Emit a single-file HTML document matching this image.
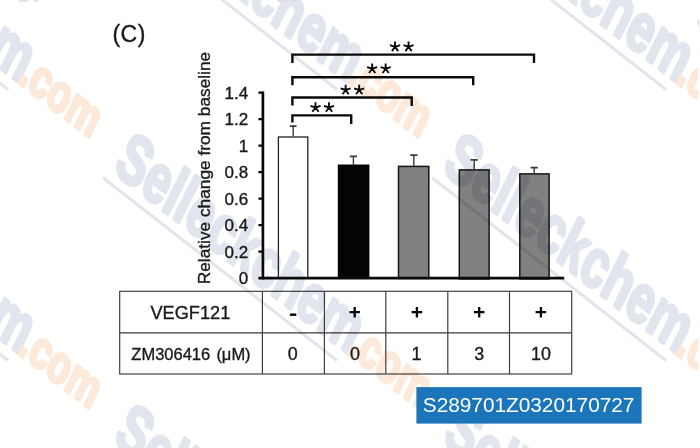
<!DOCTYPE html>
<html>
<head>
<meta charset="utf-8">
<title>Figure C</title>
<style>
html,body{margin:0;padding:0;background:#fff;}
body{width:700px;height:448px;overflow:hidden;position:relative;font-family:"Liberation Sans",sans-serif;}
svg{position:absolute;left:0;top:0;display:block;}
text{font-family:"Liberation Sans",sans-serif;}
svg{will-change:transform;}
text{stroke:#1a1a1a;stroke-width:0.35px;}
text.w{stroke:none;}
text.wm1{font-size:2048px;font-weight:bold;fill:#e1e5ee;stroke:#e1e5ee;stroke-width:106px;stroke-linejoin:round;}
text.wm2{font-size:2048px;font-weight:bold;fill:#fde9da;stroke:#fde9da;stroke-width:136px;stroke-linejoin:round;}
</style>
</head>
<body>
<svg width="700" height="448" viewBox="0 0 700 448">
  <rect width="700" height="448" fill="#fff"/>

  <!-- panel label -->
  <text x="112.4" y="41.9" font-size="23" letter-spacing="0.55" fill="#1a1a1a">(C)</text>

  <!-- y axis label -->
  <text transform="translate(209.5,284.3) rotate(-90)" font-size="17.3" fill="#1a1a1a">Relative change from baseline</text>

  <!-- y tick labels -->
  <g font-size="17" fill="#1a1a1a" text-anchor="end">
    <text x="248.2" y="98.80">1.4</text>
    <text x="248.2" y="125.28">1.2</text>
    <text x="248.2" y="151.76">1</text>
    <text x="248.2" y="178.24">0.8</text>
    <text x="248.2" y="204.72">0.6</text>
    <text x="248.2" y="231.20">0.4</text>
    <text x="248.2" y="257.68">0.2</text>
    <text x="248.2" y="284.16">0</text>
  </g>

  <!-- bars -->
  <rect x="278.4" y="137" width="29.4" height="141" fill="#fff" stroke="#222" stroke-width="1.3"/>
  <rect x="337.8" y="164.5" width="31.6" height="114" fill="#050404"/>
  <rect x="398.5" y="166.4" width="30.3" height="112" fill="#818181" stroke="#151515" stroke-width="1.5"/>
  <rect x="459.3" y="169.9" width="29.8" height="109" fill="#818181" stroke="#151515" stroke-width="1.5"/>
  <rect x="519.8" y="173.9" width="29.3" height="105" fill="#818181" stroke="#151515" stroke-width="1.5"/>

  <!-- error bars -->
  <g stroke="#3a3a3a" fill="none">
    <path d="M293.2 136.5V126M353.4 165V156.3M413.8 166V155M474.2 169V160M534.2 173V167.8" stroke-width="1.4"/>
    <path d="M289.9 126.1H296.5M349.8 156.3H357M410.2 155.1H417.5M470.6 159.9H477.8M530.6 167.7H537.8" stroke-width="1.7"/>
  </g>

  <!-- axes -->
  <g stroke="#0a0a0a" fill="none">
    <path d="M262.9 91.5V279.4" stroke-width="2.7"/>
    <path d="M258.4 278.1H564.2" stroke-width="2.8"/>
    <path d="M258.4 92.70H263M258.4 119.18H263M258.4 145.66H263M258.4 172.14H263M258.4 198.62H263M258.4 225.10H263M258.4 251.58H263" stroke-width="2.3"/>
  </g>

  <!-- significance brackets -->
  <g stroke="#0a0a0a" stroke-width="2.4" fill="none">
    <path d="M292.4 63V54.6H534V63"/>
    <path d="M292.4 85.2V77.2H473.2V85.2"/>
    <path d="M292.4 105.6V97.5H411.7V106"/>
    <path d="M292.4 122.5V115.4H351.2V124"/>
  </g>
  <path d="M395.05 46.80L395.05 41.50M395.05 46.80L400.09 45.16M395.05 46.80L398.17 51.09M395.05 46.80L391.93 51.09M395.05 46.80L390.01 45.16M408.55 46.80L408.55 41.50M408.55 46.80L413.59 45.16M408.55 46.80L411.67 51.09M408.55 46.80L405.43 51.09M408.55 46.80L403.51 45.16M372.15 68.70L372.15 63.40M372.15 68.70L377.19 67.06M372.15 68.70L375.27 72.99M372.15 68.70L369.03 72.99M372.15 68.70L367.11 67.06M385.65 68.70L385.65 63.40M385.65 68.70L390.69 67.06M385.65 68.70L388.77 72.99M385.65 68.70L382.53 72.99M385.65 68.70L380.61 67.06M345.65 90.00L345.65 84.70M345.65 90.00L350.69 88.36M345.65 90.00L348.77 94.29M345.65 90.00L342.53 94.29M345.65 90.00L340.61 88.36M359.15 90.00L359.15 84.70M359.15 90.00L364.19 88.36M359.15 90.00L362.27 94.29M359.15 90.00L356.03 94.29M359.15 90.00L354.11 88.36M315.50 107.50L315.50 102.20M315.50 107.50L320.54 105.86M315.50 107.50L318.62 111.79M315.50 107.50L312.38 111.79M315.50 107.50L310.46 105.86M329.00 107.50L329.00 102.20M329.00 107.50L334.04 105.86M329.00 107.50L332.12 111.79M329.00 107.50L325.88 111.79M329.00 107.50L323.96 105.86" stroke="#0a0a0a" stroke-width="1.9" fill="none" stroke-linecap="butt"/>

  <!-- table -->
  <g stroke="#3a3a3a" stroke-width="1.15" fill="none">
    <rect x="119.7" y="291.3" width="452" height="82.7"/>
    <path d="M119.7 332.9H571.7"/>
    <path d="M262.4 291.3V374M324.4 291.3V374M385.8 291.3V374M447.8 291.3V374M509.5 291.3V374"/>
  </g>
  <g fill="#1a1a1a" text-anchor="middle">
    <text x="190.4" y="318.6" font-size="18.2">VEGF121</text>
    <text x="170.8" y="359.9" font-size="16.5">ZM306416</text>
    <text x="233.5" y="359.9" font-size="16.5">(μM)</text>
    <g font-size="17.9">
      <text x="292.8" y="360">0</text>
      <text x="354.9" y="360">0</text>
      <text x="416.6" y="360">1</text>
      <text x="479.3" y="360">3</text>
      <text x="541" y="360">10</text>
    </g>
  </g>
  <path d="M349.40 312.20H360.00M354.70 306.90V317.50M411.60 312.20H422.20M416.90 306.90V317.50M473.90 312.20H484.50M479.20 306.90V317.50M535.60 312.20H546.20M540.90 306.90V317.50" stroke="#0a0a0a" stroke-width="2.3" fill="none"/>
  <path d="M290 314.7H296.3" stroke="#0a0a0a" stroke-width="2.5" fill="none"/>

<g id="watermarks" style="mix-blend-mode:multiply">
<g transform="matrix(0.01914,0.01484,-0.01466,0.02941,-217.00,-371.00)"><text class="wm1" x="0" y="0">Selleckchem</text></g>
<g transform="matrix(0.01549,0.01201,-0.01119,0.02246,16.85,-189.61)"><text class="wm2" x="0" y="0">.com</text></g>
<line x1="-226.0" y1="-364.3" x2="8.0" y2="-181.5" stroke="#e1e5ee" stroke-width="3"/>
<g transform="matrix(0.01914,0.01484,-0.01466,0.02941,-217.00,-100.00)"><text class="wm1" x="0" y="0">Selleckchem</text></g>
<g transform="matrix(0.01549,0.01201,-0.01119,0.02246,16.85,81.39)"><text class="wm2" x="0" y="0">.com</text></g>
<line x1="-226.0" y1="-93.3" x2="8.0" y2="89.5" stroke="#e1e5ee" stroke-width="3"/>
<g transform="matrix(0.01914,0.01484,-0.01466,0.02941,-217.00,171.00)"><text class="wm1" x="0" y="0">Selleckchem</text></g>
<g transform="matrix(0.01549,0.01201,-0.01119,0.02246,16.85,352.39)"><text class="wm2" x="0" y="0">.com</text></g>
<line x1="-226.0" y1="177.7" x2="8.0" y2="360.5" stroke="#e1e5ee" stroke-width="3"/>
<g transform="matrix(0.01914,0.01484,-0.01466,0.02941,-217.00,442.00)"><text class="wm1" x="0" y="0">Selleckchem</text></g>
<g transform="matrix(0.01549,0.01201,-0.01119,0.02246,16.85,623.39)"><text class="wm2" x="0" y="0">.com</text></g>
<line x1="-226.0" y1="448.7" x2="8.0" y2="631.5" stroke="#e1e5ee" stroke-width="3"/>
<g transform="matrix(0.01914,0.01484,-0.01466,0.02941,112.00,-371.00)"><text class="wm1" x="0" y="0">Selleckchem</text></g>
<g transform="matrix(0.01549,0.01201,-0.01119,0.02246,345.85,-189.61)"><text class="wm2" x="0" y="0">.com</text></g>
<line x1="103.0" y1="-364.3" x2="337.0" y2="-181.5" stroke="#e1e5ee" stroke-width="3"/>
<g transform="matrix(0.01914,0.01484,-0.01466,0.02941,112.00,-100.00)"><text class="wm1" x="0" y="0">Selleckchem</text></g>
<g transform="matrix(0.01549,0.01201,-0.01119,0.02246,345.85,81.39)"><text class="wm2" x="0" y="0">.com</text></g>
<line x1="103.0" y1="-93.3" x2="337.0" y2="89.5" stroke="#e1e5ee" stroke-width="3"/>
<g transform="matrix(0.01914,0.01484,-0.01466,0.02941,112.00,171.00)"><text class="wm1" x="0" y="0">Selleckchem</text></g>
<g transform="matrix(0.01549,0.01201,-0.01119,0.02246,345.85,352.39)"><text class="wm2" x="0" y="0">.com</text></g>
<line x1="103.0" y1="177.7" x2="337.0" y2="360.5" stroke="#e1e5ee" stroke-width="3"/>
<g transform="matrix(0.01914,0.01484,-0.01466,0.02941,112.00,442.00)"><text class="wm1" x="0" y="0">Selleckchem</text></g>
<g transform="matrix(0.01549,0.01201,-0.01119,0.02246,345.85,623.39)"><text class="wm2" x="0" y="0">.com</text></g>
<line x1="103.0" y1="448.7" x2="337.0" y2="631.5" stroke="#e1e5ee" stroke-width="3"/>
<g transform="matrix(0.01914,0.01484,-0.01466,0.02941,441.00,-371.00)"><text class="wm1" x="0" y="0">Selleckchem</text></g>
<g transform="matrix(0.01549,0.01201,-0.01119,0.02246,674.85,-189.61)"><text class="wm2" x="0" y="0">.com</text></g>
<line x1="432.0" y1="-364.3" x2="666.0" y2="-181.5" stroke="#e1e5ee" stroke-width="3"/>
<g transform="matrix(0.01914,0.01484,-0.01466,0.02941,441.00,-100.00)"><text class="wm1" x="0" y="0">Selleckchem</text></g>
<g transform="matrix(0.01549,0.01201,-0.01119,0.02246,674.85,81.39)"><text class="wm2" x="0" y="0">.com</text></g>
<line x1="432.0" y1="-93.3" x2="666.0" y2="89.5" stroke="#e1e5ee" stroke-width="3"/>
<g transform="matrix(0.01914,0.01484,-0.01466,0.02941,441.00,171.00)"><text class="wm1" x="0" y="0">Selleckchem</text></g>
<g transform="matrix(0.01549,0.01201,-0.01119,0.02246,674.85,352.39)"><text class="wm2" x="0" y="0">.com</text></g>
<line x1="432.0" y1="177.7" x2="666.0" y2="360.5" stroke="#e1e5ee" stroke-width="3"/>
<g transform="matrix(0.01914,0.01484,-0.01466,0.02941,441.00,442.00)"><text class="wm1" x="0" y="0">Selleckchem</text></g>
<g transform="matrix(0.01549,0.01201,-0.01119,0.02246,674.85,623.39)"><text class="wm2" x="0" y="0">.com</text></g>
<line x1="432.0" y1="448.7" x2="666.0" y2="631.5" stroke="#e1e5ee" stroke-width="3"/>
<g transform="matrix(0.01914,0.01484,-0.01466,0.02941,770.00,-371.00)"><text class="wm1" x="0" y="0">Selleckchem</text></g>
<g transform="matrix(0.01549,0.01201,-0.01119,0.02246,1003.85,-189.61)"><text class="wm2" x="0" y="0">.com</text></g>
<line x1="761.0" y1="-364.3" x2="995.0" y2="-181.5" stroke="#e1e5ee" stroke-width="3"/>
<g transform="matrix(0.01914,0.01484,-0.01466,0.02941,770.00,-100.00)"><text class="wm1" x="0" y="0">Selleckchem</text></g>
<g transform="matrix(0.01549,0.01201,-0.01119,0.02246,1003.85,81.39)"><text class="wm2" x="0" y="0">.com</text></g>
<line x1="761.0" y1="-93.3" x2="995.0" y2="89.5" stroke="#e1e5ee" stroke-width="3"/>
<g transform="matrix(0.01914,0.01484,-0.01466,0.02941,770.00,171.00)"><text class="wm1" x="0" y="0">Selleckchem</text></g>
<g transform="matrix(0.01549,0.01201,-0.01119,0.02246,1003.85,352.39)"><text class="wm2" x="0" y="0">.com</text></g>
<line x1="761.0" y1="177.7" x2="995.0" y2="360.5" stroke="#e1e5ee" stroke-width="3"/>
<g transform="matrix(0.01914,0.01484,-0.01466,0.02941,770.00,442.00)"><text class="wm1" x="0" y="0">Selleckchem</text></g>
<g transform="matrix(0.01549,0.01201,-0.01119,0.02246,1003.85,623.39)"><text class="wm2" x="0" y="0">.com</text></g>
<line x1="761.0" y1="448.7" x2="995.0" y2="631.5" stroke="#e1e5ee" stroke-width="3"/>
</g>

  <!-- edge artefacts -->
  <rect x="698.4" y="0" width="1.6" height="448" fill="#fff"/>
  <path d="M19 1H28M34 1H38M278 1H288M293 1H297" stroke="#dcdcdc" stroke-width="1.4" fill="none"/>
  <path d="M698.6 20V25.5" stroke="#c8c8c8" stroke-width="1" fill="none"/>

  <!-- id badge -->
  <rect x="416.4" y="387.1" width="225.2" height="36.5" fill="#1b75bb"/>
  <text class="w" x="528.6" y="411.5" font-size="20.8" fill="#fff" text-anchor="middle">S289701Z0320170727</text>
</svg>
</body>
</html>
